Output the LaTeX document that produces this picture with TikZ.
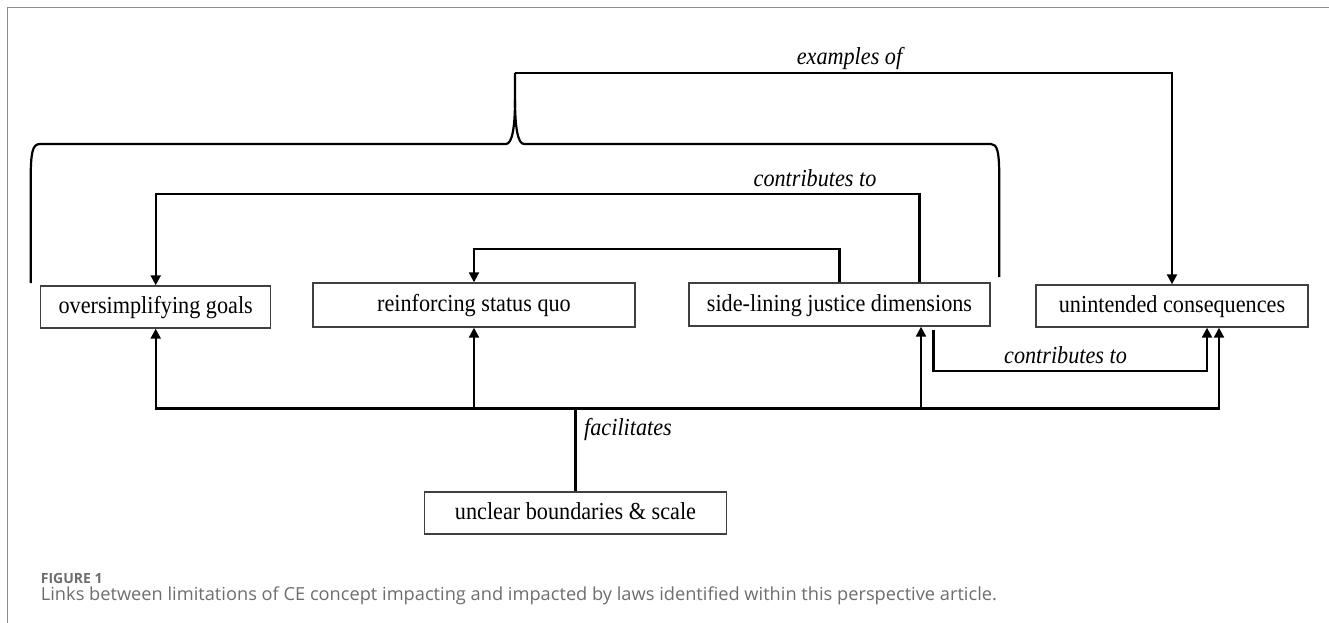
\documentclass[tikz,border=0pt]{standalone}
\usepackage{fontspec}
\setmainfont[FakeStretch=0.91]{Liberation Serif}
\newfontfamily\capfont{Open Sans}
\usetikzlibrary{arrows.meta}
\definecolor{framegray}{HTML}{8C8C8C}
\definecolor{capgray}{HTML}{6E6E6E}
\definecolor{boxline}{HTML}{404040}
\tikzset{
  box/.style={draw=boxline, line width=1.4pt, rectangle, inner sep=0pt,
    font=\fontsize{24.4}{26}\selectfont, text height=16.6pt, text depth=3pt},
  conn/.style={line width=2.2pt, black},
  arr/.style={conn, -{Triangle[length=10pt,width=10pt]}},
  lbl/.style={font=\fontsize{24.4}{26}\selectfont\itshape, inner sep=0pt}
}
\newlength\capw
\newcommand\captext{Links between limitations of CE concept impacting and impacted by laws identified within this perspective article.}
\begin{document}
\settowidth\capw{\capfont\fontsize{18}{20}\selectfont\captext}%
\pgfmathsetmacro\capsc{956/\capw}%
\begin{tikzpicture}[x=1pt,y=-1pt]
\useasboundingbox (0,0) rectangle (1329,623);
\fill[white] (0,0) rectangle (1329,623);
\draw[framegray, line width=1.5pt] (7.5,623) -- (7.5,7.5) -- (1329,7.5);

% boxes
\node[box, minimum width=230pt, minimum height=42pt] (og) at (155.7,307) {oversimplifying goals};
\node[box, minimum width=322pt, minimum height=44pt] (rsq) at (474,305) {reinforcing status quo};
\node[box, minimum width=301pt, minimum height=43pt] (slj) at (839.5,304.5) {side-lining justice dimensions};
\node[box, minimum width=272pt, minimum height=42pt] (uc) at (1172,306) {unintended consequences};
\node[box, minimum width=302pt, minimum height=42pt] (ub) at (575.5,513) {unclear boundaries \& scale};

% brace
\coordinate (brtip) at (515,73);
\draw[conn] (30.7,283) -- (30.7,180) .. controls (30.7,152) and (32.5,144) .. (40,144)
  -- (506,144) .. controls (512,144) and (515,128) .. (515,100) -- (brtip);
\draw[conn] (515,100) .. controls (515,128) and (518,144) .. (524,144)
  -- (991,144) .. controls (997.5,144) and (999.3,152) .. (999.3,180) -- (999.3,277);

% examples of
\draw[arr] (brtip) -| (uc.north);
\node[lbl, anchor=base] (lex) at (849.5,65) {examples of};

% contributes to (top)
\draw[arr] ([xshift=80pt]slj.north) -- ++(0,-88) -| (og.north);
\node[lbl, anchor=base] (lct1) at (815,186) {contributes to};

% inner link
\draw[arr] (slj.north) -- ++(0,-33) -| (rsq.north);

% facilitates bus
\coordinate (bj) at (575.5,408.5);
\draw[conn] (ub.north) -- (bj);
\draw[arr] (bj) -| (og.south);
\draw[arr] (bj) -| (rsq.south);
\draw[arr] (bj) -| ([xshift=81.5pt]slj.south);
\draw[arr] (bj) -| ([xshift=47pt]uc.south);
\node[lbl, anchor=base west] (lfac) at (584,435) {facilitates};

% contributes to (lower)
\draw[arr] ([xshift=94pt,yshift=-3pt]slj.south) -- ++(0,41) -| ([xshift=35pt]uc.south);
\node[lbl, anchor=base] (lct2) at (1065.5,363) {contributes to};

% caption
\node[anchor=base west, inner sep=0pt, text=capgray, font=\capfont\bfseries\fontsize{14}{16}\selectfont] (fig) at (40.7,583.5) {FIGURE 1};
\node[anchor=base west, inner sep=0pt, text=capgray, font=\capfont\fontsize{18}{20}\selectfont] (cap) at (40.7,600) {\scalebox{\capsc}[1]{\captext}};
\end{tikzpicture}
\end{document}
